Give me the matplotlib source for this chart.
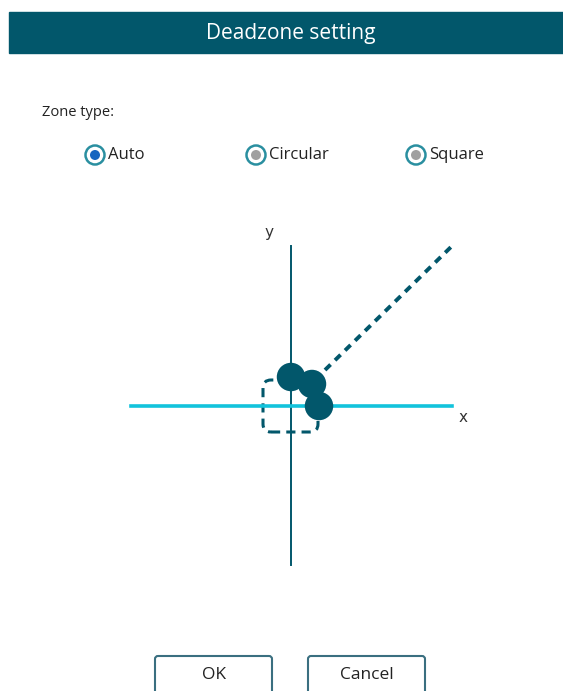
import matplotlib.pyplot as plt
from matplotlib.patches import Rectangle, FancyBboxPatch, Circle

W, H = 563, 691
TEAL = '#02576b'
CYAN = '#12c3dc'

title = "Deadzone setting"
zone_label = "Zone type:"
options = ["Auto", "Circular", "Square"]
option_x = [95, 256, 416]
selected = "Auto"
buttons = ["OK", "Cancel"]
button_x = [155, 308]

# stick plot values (pixel-like units, origin at axes crossing)
axis_len_x = [-160, 161]
axis_len_y = [-159, 160]
stick_x = [0, 21, 28]
stick_y = [29, 22, 0]
trail_x = [34, 161]
trail_y = [36, 160]
zone_x = [-28, 27]
zone_y = [-26, 26]

fig = plt.figure(figsize=(W / 100, H / 100), dpi=100)
ax = fig.add_axes([0, 0, 1, 1])
ax.set_xlim(0, W)
ax.set_ylim(H, 0)
ax.axis('off')

# header
ax.add_patch(Rectangle((9, 12), W - 9, 41, color=TEAL))
ax.text((9 + W) / 2 + 5, 33, title, color='white', fontsize=15, ha='center', va='center',
        family='Open Sans')

ax.text(42, 112, zone_label, fontsize=10.5, color='#222222', va='center', family='Open Sans')
for name, x in zip(options, option_x):
    ax.add_patch(Circle((x, 155), 9.5, facecolor='white', edgecolor='#2a8fa0', lw=1.8))
    inner = '#1565c0' if name == selected else '#a0a0a0'
    ax.add_patch(Circle((x, 155), 5, facecolor=inner, edgecolor='none'))
    ax.text(x + 13, 155, name, fontsize=12, color='#222222', va='center', family='Open Sans')

# buttons
for name, x in zip(buttons, button_x):
    ax.add_patch(FancyBboxPatch((x, 656), 117, 40, boxstyle='round,pad=0,rounding_size=3',
                                facecolor='white', edgecolor='#3a6f80', lw=1.5, clip_on=False))
    ax.text(x + 59, 675, name, fontsize=12.5, color='#222222', ha='center', va='center',
            family='Open Sans')

# stick plot
ox, oy = 291, 406
pa = fig.add_axes([(ox - 170) / W, 1 - (oy + 170) / H, 340 / W, 340 / H])
pa.set_xlim(-170, 170)
pa.set_ylim(-170, 170)
pa.axis('off')
pa.plot([0, 0], axis_len_y, color=TEAL, lw=1.4)
pa.plot(axis_len_x, [0, 0], color=CYAN, lw=2.6)
pa.plot(trail_x, trail_y, color=TEAL, lw=2.8, ls=(0, (2, 1.6)))
pa.add_patch(FancyBboxPatch((zone_x[0], zone_y[0]), zone_x[1] - zone_x[0], zone_y[1] - zone_y[0],
                            boxstyle='round,pad=0,rounding_size=8', facecolor='none',
                            edgecolor=TEAL, lw=2.2, ls=(0, (3, 2))))
pa.scatter(stick_x, stick_y, s=420, color=TEAL, zorder=5, edgecolors='none')
pa.text(-22, 173, 'y', fontsize=11, color='#333333', ha='center', va='center')
pa.text(172, -12, 'x', fontsize=11, color='#333333', ha='center', va='center')

fig.savefig('out.png', dpi=100)
